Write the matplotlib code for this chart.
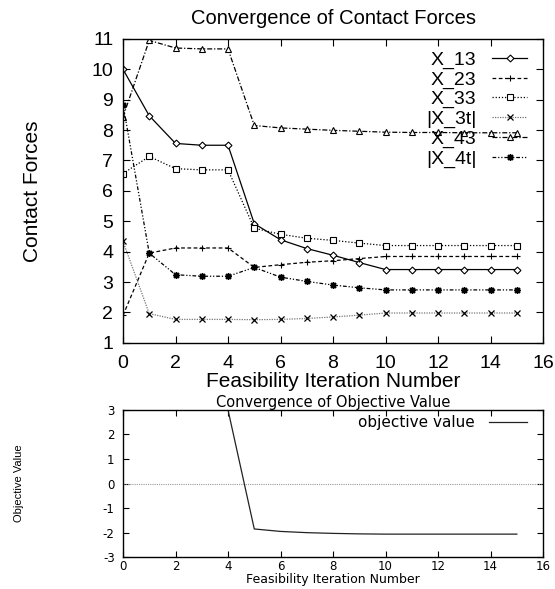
import matplotlib
matplotlib.use('Agg')
import matplotlib.pyplot as plt

plt.rcParams['axes.unicode_minus'] = False

# feasibility iterations
iters = list(range(16))

x13 = [10.0, 8.47, 7.56, 7.50, 7.50, 4.92, 4.39, 4.10, 3.88, 3.64, 3.41, 3.41, 3.41, 3.41, 3.41, 3.41]
x23 = [1.90, 3.95, 4.12, 4.12, 4.12, 3.48, 3.57, 3.65, 3.70, 3.77, 3.84, 3.84, 3.84, 3.84, 3.84, 3.84]
x33 = [6.57, 7.13, 6.73, 6.69, 6.69, 4.77, 4.57, 4.44, 4.37, 4.28, 4.20, 4.20, 4.20, 4.20, 4.20, 4.20]
x3t = [4.34, 1.96, 1.77, 1.77, 1.77, 1.76, 1.77, 1.80, 1.85, 1.91, 1.98, 1.98, 1.98, 1.98, 1.98, 1.98]
x43 = [8.43, 10.95, 10.70, 10.67, 10.67, 8.15, 8.07, 8.03, 7.99, 7.96, 7.93, 7.92, 7.92, 7.91, 7.91, 7.91]
x4t = [8.84, 3.95, 3.24, 3.19, 3.19, 3.48, 3.16, 3.02, 2.90, 2.81, 2.74, 2.74, 2.74, 2.74, 2.74, 2.74]

objective = [3.0, 3.0, 3.0, 3.0, 3.0, -1.85, -1.95, -2.00, -2.03, -2.05, -2.06, -2.06, -2.06, -2.06, -2.06, -2.06]

big = 'Liberation Sans'
small = 'DejaVu Sans'

fig = plt.figure(figsize=(5.55, 5.89), dpi=100)

# ---- top panel: contact forces
ax = fig.add_axes([0.2216, 0.418, 0.757, 0.516])
ms = 4
ax.plot(iters, x13, color='black', lw=0.9, ls='-', marker='D', ms=3.5, mfc='white', mew=0.8, label='X_13')
ax.plot(iters, x23, color='black', lw=0.9, ls=(0, (3, 2)), marker='+', ms=5, mew=0.8, label='X_23')
ax.plot(iters, x33, color='black', lw=0.9, ls=(0, (1, 1.5)), marker='s', ms=ms, mfc='white', mew=0.8, label='X_33')
ax.plot(iters, x3t, color='#777777', lw=0.9, ls=(0, (1, 1)), marker='x', ms=4, mew=0.9, mec='black', label='|X_3t|')
ax.plot(iters, x43, color='black', lw=0.9, ls=(0, (4, 1.5, 1, 1.5)), marker='^', ms=ms, mfc='white', mew=0.8, label='X_43')
ax.plot(iters, x4t, color='black', lw=0.9, ls=(0, (3, 1.5, 1, 1.5, 1, 1.5)), marker=(8, 2, 0), ms=5, mew=1.0, label='|X_4t|')

ax.set_xlim(0, 16)
ax.set_ylim(1, 11)
ax.set_xticks(range(0, 17, 2))
ax.set_yticks(range(1, 12))
ax.tick_params(direction='in', length=5, width=0.8, top=True, right=True, labelsize=14)
ax.tick_params(axis='x', pad=9)
ax.tick_params(axis='y', pad=7)
for lab in ax.get_xticklabels() + ax.get_yticklabels():
    lab.set_family(big)
for s in ax.spines.values():
    s.set_linewidth(1.0)
ax.set_title('Convergence of Contact Forces', family=big, fontsize=14.5, pad=11)
ax.set_xlabel('Feasibility Iteration Number', family=big, fontsize=15, labelpad=0)
ax.set_ylabel('Contact Forces', family=big, fontsize=15, labelpad=36)
leg = ax.legend(loc='upper right', bbox_to_anchor=(0.962, 0.96), frameon=False, markerfirst=False,
                prop={'family': big, 'size': 14}, labelspacing=0.1, handlelength=1.8, handletextpad=0.8,
                borderpad=0, borderaxespad=0, numpoints=1)

# ---- bottom panel: objective value
ax2 = fig.add_axes([0.2216, 0.054, 0.757, 0.250])
ax2.axhline(0, color='#999999', lw=0.8, ls=(0, (1, 1)))
ax2.plot(iters, objective, color='#222222', lw=0.9, label='objective value')
ax2.set_xlim(0, 16)
ax2.set_ylim(-3, 3)
ax2.set_xticks(range(0, 17, 2))
ax2.set_yticks(range(-3, 4))
ax2.tick_params(direction='in', length=4, width=0.8, top=True, right=True, labelsize=8.5, pad=2)
ax2.tick_params(axis='y', pad=6)
for lab in ax2.get_xticklabels() + ax2.get_yticklabels():
    lab.set_family(small)
for s in ax2.spines.values():
    s.set_linewidth(1.0)
ax2.set_title('Convergence of Objective Value', family=small, fontsize=10.5, pad=2)
ax2.set_xlabel('Feasibility Iteration Number', family=small, fontsize=9, labelpad=0)
ax2.set_ylabel('Objective Value', family=big, fontsize=8, labelpad=57)
ax2.legend(loc='upper right', bbox_to_anchor=(0.962, 0.965), frameon=False, markerfirst=False,
           prop={'family': small, 'size': 11}, handlelength=2.5, handletextpad=0.9,
           borderpad=0, borderaxespad=0)

fig.savefig('out.png', dpi=100)
